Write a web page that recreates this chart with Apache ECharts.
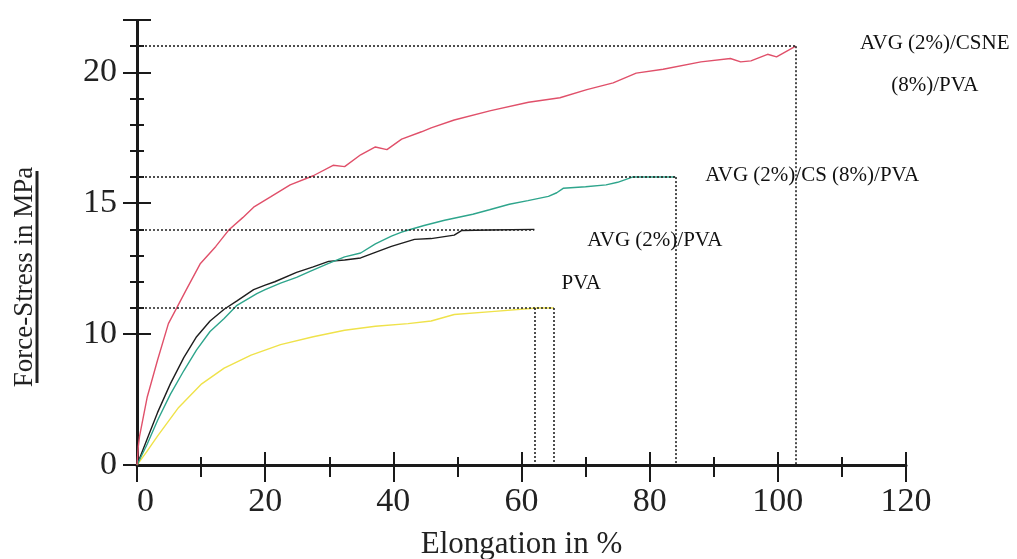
<!DOCTYPE html>
<html>
<head>
<meta charset="utf-8">
<script src="https://cdn.jsdelivr.net/npm/echarts@6/dist/echarts.min.js"></script>
<style>
  html, body { margin: 0; padding: 0; background: #fff; }
  #chart { width: 1017px; height: 559px; }
</style>
</head>
<body>
<div id="chart"></div>
<script>
// stress-strain curves, [elongation %, stress MPa]
var pva = [[0,0],[1.5,5.5],[3.2,6.1],[6.5,7.2],[10.1,8.1],[13.6,8.7],[17.8,9.2],[22.4,9.6],[27.5,9.9],[32.4,10.15],[37.2,10.3],[42.3,10.4],[45.9,10.5],[49.5,10.75],[55.3,10.86],[62.4,11.0],[65,11.0]];
var avgPva = [[0,0],[1.6,6.0],[3.2,7.0],[5.2,8.1],[7.3,9.1],[9.3,9.9],[11.4,10.5],[13.6,10.95],[15.6,11.27],[18.2,11.7],[20,11.87],[21.5,12.0],[24.9,12.36],[27.5,12.57],[29.9,12.78],[32.4,12.83],[34.9,12.91],[37.5,13.15],[39.7,13.35],[43.3,13.62],[45.9,13.65],[49.5,13.78],[50.7,13.96],[55,13.98],[62,14.0]];
var avgCsPva = [[0,0],[1.6,5.8],[3.2,6.7],[5.2,7.7],[7.3,8.6],[9.3,9.4],[11.4,10.1],[13.6,10.6],[15.6,11.1],[18.7,11.55],[20,11.7],[22.4,11.95],[24.9,12.17],[27,12.4],[29.9,12.7],[32.4,12.95],[34.9,13.1],[37.2,13.45],[39.7,13.74],[41.3,13.9],[44.8,14.15],[48,14.35],[52.4,14.58],[55,14.75],[58.1,14.96],[61,15.1],[64.2,15.26],[65.5,15.4],[66.5,15.57],[70,15.63],[73.2,15.7],[75,15.8],[77.3,16.0],[84,16.0]];
var avgCsnePva = [[0,0],[0.2,5.7],[0.4,6.1],[1.6,7.6],[3.2,9.0],[4.9,10.4],[6.2,11.0],[7.7,11.7],[9.9,12.7],[12.3,13.35],[14.4,14.0],[16.5,14.45],[18.2,14.85],[20.9,15.25],[23.9,15.7],[27.5,16.05],[30.6,16.45],[32.4,16.4],[34.9,16.85],[37.2,17.15],[39,17.05],[41.3,17.45],[44.4,17.73],[45.9,17.88],[49.5,18.18],[55.2,18.54],[61.1,18.86],[66,19.03],[70.2,19.34],[74.3,19.6],[77.9,19.97],[82.1,20.12],[88,20.4],[92.6,20.53],[94.2,20.4],[95.8,20.44],[98.4,20.69],[99.8,20.59],[102.8,21.0]];

var seriesNames = ['PVA', 'AVG (2%)/PVA', 'AVG (2%)/CS (8%)/PVA', 'AVG (2%)/CSNE\n(8%)/PVA'];
var seriesColors = ['#efe24a', '#1e1e1e', '#2ea58c', '#e0506a'];

var xLabels = [0, 20, 40, 60, 80, 100, 120];
var yLabels = [0, 10, 15, 20];
// the stress axis is broken between 0 and 5
var yBreaks = [{ start: 0, end: 5, gap: 0 }];

var font = 'Liberation Serif';

// where each end label sits relative to the curve end (px)
var labelOffsets = [[8, -24], [53, 11], [30, -2], [139, 18]];
var labelAlign = ['left', 'left', 'left', 'center'];

var allData = [pva, avgPva, avgCsPva, avgCsnePva];

function endOf(d) { return d[d.length - 1]; }

var chart = echarts.init(document.getElementById('chart'));

function xAxisBase(inside) {
  return {
    type: 'value', min: 0, max: 120, interval: 20, position: 'bottom', offset: 0,
    axisLine: { show: !inside, onZero: false, lineStyle: { color: '#1a1a1a', width: 3 } },
    axisTick: { show: true, inside: inside, length: inside ? 13 : 17, lineStyle: { color: '#1a1a1a', width: 2 } },
    minorTick: { show: true, splitNumber: 2, length: inside ? 8 : 12, lineStyle: { color: '#1a1a1a', width: 2 } },
    splitLine: { show: false },
    axisLabel: {
      show: !inside, margin: 20, color: '#222', fontFamily: font, fontSize: 34,
      alignMinLabel: 'left',
      formatter: function (v) { return xLabels.indexOf(v) >= 0 ? String(v) : ''; }
    }
  };
}

function yAxisBase(inside) {
  return {
    type: 'value', min: 0, max: 22, interval: 5, position: 'left', offset: 0,
    breaks: yBreaks,
    breakArea: { show: false },
    breakLabelLayout: { moveOverlap: false },
    axisLine: { show: !inside, onZero: false, lineStyle: { color: '#1a1a1a', width: 3 } },
    axisTick: { show: true, inside: inside, length: 14, lineStyle: { color: '#1a1a1a', width: 2 } },
    minorTick: { show: true, splitNumber: 5, length: 7, lineStyle: { color: '#1a1a1a', width: 2 } },
    splitLine: { show: false },
    axisLabel: {
      show: !inside, margin: 20, color: '#222', fontFamily: font, fontSize: 34,
      formatter: function (v) { return yLabels.indexOf(v) >= 0 ? String(v) : ''; }
    }
  };
}

var xMain = xAxisBase(false);
xMain.name = 'Elongation in %';
xMain.nameLocation = 'middle';
xMain.nameGap = 64;
xMain.nameTextStyle = { fontFamily: font, fontSize: 31, color: '#222' };

var series = allData.map(function (d, i) {
  var end = endOf(d);
  // black and yellow drop lines start at the PVA level, as in the figure
  var dropTop = (i === 1) ? endOf(pva)[1] : end[1];
  return {
    name: seriesNames[i],
    type: 'line',
    data: d,
    showSymbol: false,
    smooth: false,
    animation: false,
    z: 3,
    lineStyle: { color: seriesColors[i], width: 1.4 },
    markLine: {
      silent: true, symbol: 'none', animation: false,
      label: { show: false },
      lineStyle: { color: '#222', width: 1.6, type: [2, 2] },
      data: [
        [{ coord: [0, end[1]] }, { coord: end }],
        [{ coord: [end[0], dropTop] }, { coord: [end[0], 0] }]
      ]
    },
    markPoint: {
      silent: true, animation: false,
      symbol: 'circle', symbolSize: 1,
      itemStyle: { color: 'rgba(0,0,0,0)' },
      label: {
        show: true, position: 'inside',
        offset: labelOffsets[i], align: labelAlign[i], verticalAlign: 'middle',
        fontFamily: font, fontSize: 21, lineHeight: 42, color: '#111',
        formatter: seriesNames[i]
      },
      data: [{ coord: end }]
    }
  };
});

var option = {
  backgroundColor: '#fff',
  animation: false,
  grid: { left: 137, right: 111, top: 20, bottom: 94, containLabel: false, outerBoundsMode: 'none' },
  xAxis: [xMain, xAxisBase(true)],
  yAxis: [yAxisBase(false), yAxisBase(true)],
  graphic: [{
    type: 'group', x: 25, y: 277, rotation: Math.PI / 2,
    children: [
      { type: 'text', x: 0, y: 0, style: { text: 'Force-Stress in MPa', fontFamily: font, fontSize: 27, fill: '#222', align: 'center', verticalAlign: 'middle' } },
      { type: 'line', shape: { x1: -106, y1: 12, x2: 106, y2: 12 }, style: { stroke: '#222', lineWidth: 3 } }
    ]
  }],
  series: series
};

chart.setOption(option);
</script>
</body>
</html>
